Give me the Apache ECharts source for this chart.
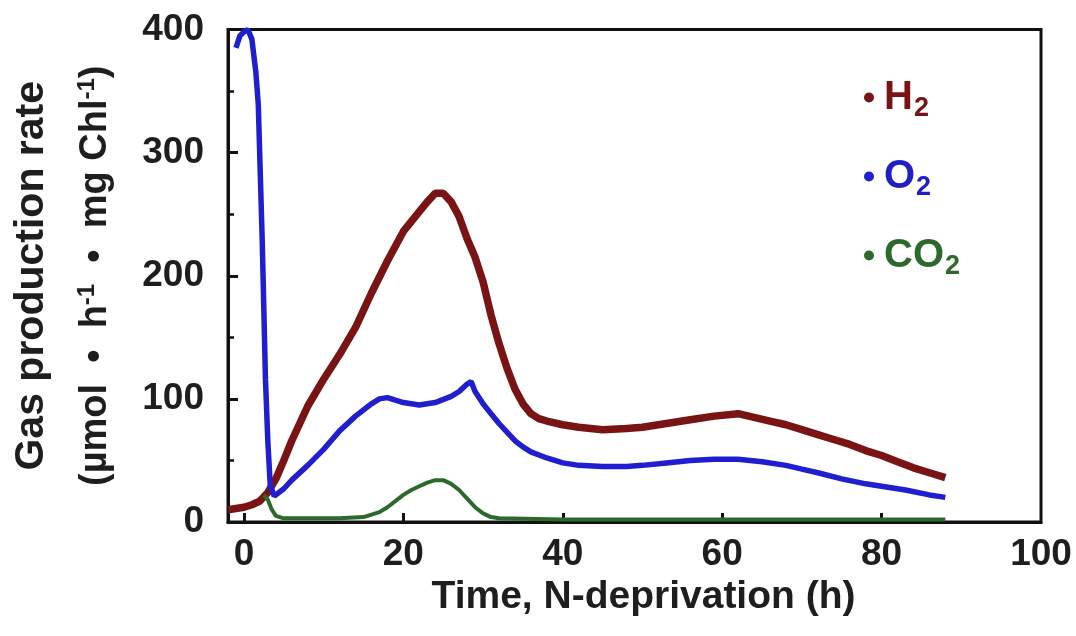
<!DOCTYPE html>
<html>
<head>
<meta charset="utf-8">
<title>Gas production rate</title>
<script src="https://cdn.jsdelivr.net/npm/echarts@6.0.0/dist/echarts.min.js"></script>
<style>
  html, body { margin: 0; padding: 0; background: #fff; }
  #chart { width: 1076px; height: 636px; }
</style>
</head>
<body>
<div id="chart"></div>
<script>
// values (time in h, rate in umol / h / mg Chl)
const h2Time = [-2, -1, 0, 1, 2, 3, 4, 5, 6, 7, 8, 10, 12, 14, 16, 18, 20, 22, 23, 24, 25, 26, 27, 28, 29, 30, 31, 32, 33, 34, 35, 36, 37, 38, 40, 42, 45, 48, 50, 53, 56, 59, 62, 64, 66, 68, 70, 72, 74, 76, 78, 80, 82, 84, 86, 88];
const h2Rate = [10, 11, 12, 14, 17, 24, 35, 50, 66, 80, 94, 116, 136, 158, 186, 212, 236, 252, 260, 267, 267, 260, 248, 230, 215, 195, 168, 145, 125, 108, 96, 88, 84, 82, 79, 77, 75, 76, 77, 80, 83, 86, 88, 85, 82, 79, 75, 71, 67, 63, 58, 54, 49, 44, 40, 36];

const o2Time = [-1, -0.5, 0, 0.5, 1, 1.5, 1.8, 2.3, 2.7, 3, 3.3, 3.8, 5, 6, 8, 10, 12, 14, 16, 17, 18, 19, 20, 22, 24, 26, 27, 28, 28.5, 29, 30, 31, 32, 33, 34, 35, 36, 38, 40, 42, 45, 48, 50, 53, 56, 59, 62, 65, 68, 70, 72, 75, 78, 80, 83, 86, 88];
const o2Rate = [385, 395, 398, 400, 392, 365, 339, 227, 116, 65, 30, 21, 27, 34, 46, 59, 74, 86, 96, 100, 101, 99, 97, 95, 97, 102, 106, 112, 114, 106, 96, 88, 80, 73, 66, 61, 57, 52, 48, 46, 45, 45, 46, 48, 50, 51, 51, 49, 46, 43, 40, 35, 31, 29, 26, 22, 20];

const co2Time = [2.5, 3, 3.5, 4, 5, 8, 12, 15, 16, 17, 18, 19, 20, 21, 22, 23, 24, 25, 26, 27, 28, 29, 30, 31, 32, 40, 50, 60, 70, 80, 88];
const co2Rate = [22, 18, 10, 5, 3, 3, 3, 4, 6, 8, 12, 17, 22, 26, 29, 32, 34, 34, 31, 26, 19, 12, 7, 4, 3, 2, 2, 2, 2, 2, 2];

const xTicks = [0, 20, 40, 60, 80, 100];
const xMin = -2, xMax = 100;
const yMin = 0, yMax = 400, yStep = 100;

const font = '"Liberation Sans", Arial, Helvetica, sans-serif';
const ink = '#1e1e1e';

const pairs = (xs, ys) => xs.map((x, i) => [x, ys[i]]);

const chart = echarts.init(document.getElementById('chart'));
const option = {
    animation: false,
    backgroundColor: '#fff',
    grid: {
        left: 228,
        right: 35,
        top: 29.5,
        bottom: 114,
        containLabel: false,
        outerBoundsMode: 'none',
        show: true,
        borderColor: '#111',
        borderWidth: 3
    },
    legend: {
        orient: 'vertical',
        left: 859,
        top: 68,
        icon: 'circle',
        itemWidth: 10,
        itemHeight: 10,
        itemGap: 30,
        formatter: (name) => '{b|' + name.slice(0, -1) + '}{s|2}',
        textStyle: {
            fontFamily: font,
            fontWeight: 'bold',
            fontSize: 40,
            rich: {
                b: { fontFamily: font, fontWeight: 'bold', fontSize: 40, lineHeight: 46, padding: [0, 0, 0, 5] },
                s: { fontFamily: font, fontWeight: 'bold', fontSize: 27, lineHeight: 46, padding: [22, 0, 0, 1] }
            }
        },
        data: [
            { name: 'H2', textStyle: { color: '#7a1414' } },
            { name: 'O2', textStyle: { color: '#1f1fc8' } },
            { name: 'CO2', textStyle: { color: '#2c6a2c' } }
        ]
    },
    xAxis: {
        type: 'value',
        min: xMin,
        max: xMax,
        name: 'Time, N-deprivation (h)',
        nameLocation: 'middle',
        nameGap: 44,
        nameTextStyle: { fontFamily: font, fontWeight: 'bold', fontSize: 39, color: ink, padding: [0, 0, 0, 18] },
        axisLine: { show: true, onZero: false, lineStyle: { color: '#111', width: 3 } },
        axisTick: { show: true, inside: true, length: 9, customValues: xTicks.slice(0, -1), lineStyle: { color: '#111', width: 3 } },
        axisLabel: { customValues: xTicks, margin: 14, fontFamily: font, fontWeight: 'bold', fontSize: 37, color: ink },
        splitLine: { show: false }
    },
    yAxis: {
        type: 'value',
        min: yMin,
        max: yMax,
        interval: yStep,
        name: '{t|Gas production rate}\n{u|(µmol  •  h}{p|-1}{u|  •  mg Chl}{p|-1}{u|)}',
        nameLocation: 'middle',
        nameRotate: 90,
        nameGap: 100,
        nameTextStyle: {
            fontFamily: font, fontWeight: 'bold', fontSize: 38, color: ink, lineHeight: 64,
            rich: {
                t: { fontFamily: font, fontWeight: 'bold', fontSize: 41, lineHeight: 64, color: ink },
                u: { fontFamily: font, fontWeight: 'bold', fontSize: 38, lineHeight: 64, color: ink },
                p: { fontFamily: font, fontWeight: 'bold', fontSize: 24, lineHeight: 64, color: ink, padding: [0, 0, 18, 0] }
            }
        },
        axisLine: { show: true, onZero: false, lineStyle: { color: '#111', width: 3 } },
        axisTick: { show: true, inside: true, length: 10, lineStyle: { color: '#111', width: 3 } },
        minorTick: { show: true, splitNumber: 2, length: 6, lineStyle: { color: '#111', width: 2.5 } },
        axisLabel: { margin: 24, fontFamily: font, fontWeight: 'bold', fontSize: 37, color: ink },
        splitLine: { show: false }
    },
    series: [
        {
            name: 'H2',
            type: 'line',
            data: pairs(h2Time, h2Rate),
            symbol: 'none',
            color: '#7a1414',
            lineStyle: { color: '#7a1414', width: 7.5 }
        },
        {
            name: 'O2',
            type: 'line',
            data: pairs(o2Time, o2Rate),
            symbol: 'none',
            color: '#1f1fd0',
            lineStyle: { color: '#1f1fd0', width: 5.5 }
        },
        {
            name: 'CO2',
            type: 'line',
            data: pairs(co2Time, co2Rate),
            symbol: 'none',
            color: '#2c6a2c',
            lineStyle: { color: '#2c6a2c', width: 4 }
        }
    ]
};
chart.setOption(option);
</script>
</body>
</html>
